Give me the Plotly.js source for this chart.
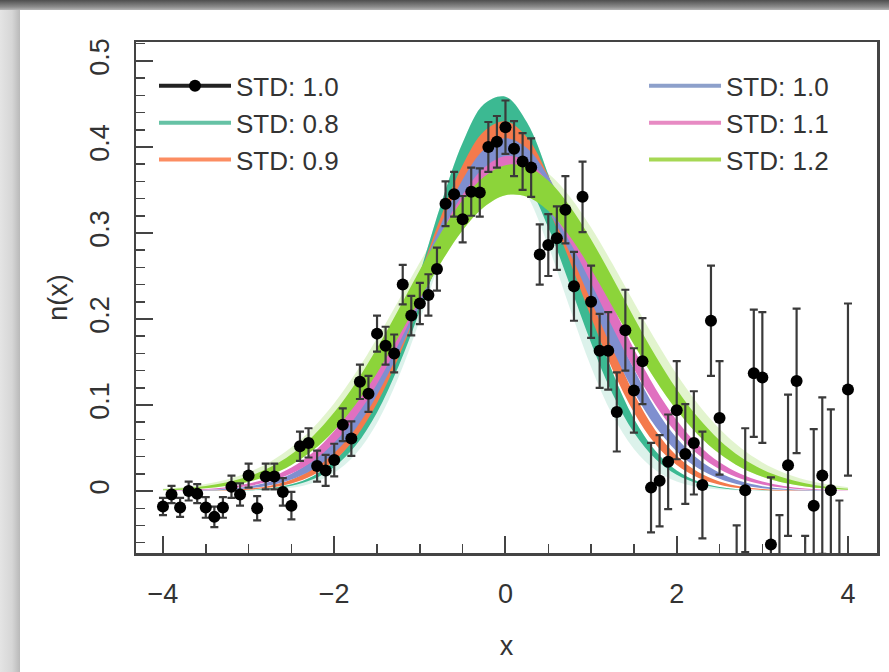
<!DOCTYPE html>
<html>
<head>
<meta charset="utf-8">
<script src="https://cdn.plot.ly/plotly-3.0.1.min.js"></script>
<style>
  html, body { margin:0; padding:0; }
  body { width:889px; height:672px; position:relative; overflow:hidden; background:#d9d9d9; }
  #topstrip { position:absolute; left:0; top:0; width:889px; height:10px; background:linear-gradient(#4e4e4e, #8c8c8c 70%, #b5b5b5); }
  #leftstrip { position:absolute; left:0; top:10px; width:20px; height:662px; background:linear-gradient(to right, #e4e4e4, #d6d6d6 60%, #b9b9b9); }
  #chart { position:absolute; left:20px; top:10px; width:869px; height:662px; background:#fff; }
</style>
</head>
<body>
<div id="topstrip"></div>
<div id="leftstrip"></div>
<div id="chart"></div>
<script>
// ---- observed data (x, n(x), error) ----
const xPts = [-4.0,-3.9,-3.8,-3.7,-3.6,-3.5,-3.4,-3.3,-3.2,-3.1,-3.0,-2.9,-2.8,-2.7,-2.6,-2.5,-2.4,-2.3,-2.2,-2.1,-2.0,-1.9,-1.8,-1.7,-1.6,-1.5,-1.4,-1.3,-1.2,-1.1,-1.0,-0.9,-0.8,-0.7,-0.6,-0.5,-0.4,-0.3,-0.2,-0.1,0.0,0.1,0.2,0.3,0.4,0.5,0.6,0.7,0.8,0.9,1.0,1.1,1.2,1.3,1.4,1.5,1.6,1.7,1.8,1.9,2.0,2.1,2.2,2.3,2.4,2.5,2.6,2.7,2.8,2.9,3.0,3.1,3.2,3.3,3.4,3.5,3.6,3.7,3.8,3.9,4.0];
const yPts = [-0.018,-0.004,-0.019,0.000,-0.003,-0.019,-0.030,-0.019,0.005,-0.004,
  0.018,-0.020,0.017,0.017,-0.001,-0.017,0.052,0.056,0.029,0.024,
  0.036,0.077,0.061,0.127,0.113,0.183,0.169,0.160,0.240,0.204,
  0.218,0.228,0.258,0.334,0.345,0.316,0.348,0.347,0.400,0.406,
  0.423,0.398,0.383,0.376,0.275,0.286,0.294,0.327,0.238,0.342,
  0.220,0.163,0.163,0.092,0.187,0.117,0.151,0.004,0.012,0.034,
  0.094,0.043,0.056,0.007,0.198,0.085,-0.160,-0.110,0.001,0.137,
  0.132,-0.062,-0.108,0.030,0.128,-0.139,-0.017,0.018,0.001,-0.108,
  0.118];
const errPts = [0.010,0.010,0.011,0.011,0.011,0.012,0.012,0.012,0.013,0.013,
  0.014,0.014,0.015,0.015,0.016,0.016,0.017,0.017,0.018,0.018,
  0.019,0.019,0.020,0.020,0.021,0.021,0.022,0.022,0.023,0.023,
  0.024,0.024,0.025,0.026,0.026,0.027,0.028,0.028,0.029,0.030,
  0.031,0.032,0.033,0.034,0.035,0.036,0.037,0.039,0.040,0.041,
  0.042,0.043,0.045,0.046,0.047,0.049,0.050,0.052,0.053,0.055,
  0.057,0.058,0.060,0.062,0.064,0.066,0.068,0.070,0.072,0.074,
  0.076,0.078,0.080,0.082,0.084,0.087,0.089,0.091,0.094,0.097,
  0.100];

// ---- fitted bands (lower / upper envelope of the sampled curves) ----
const xBand = [-4,-3.75,-3.5,-3.25,-3,-2.75,-2.5,-2.25,-2,-1.75,-1.5,-1.25,-1,-0.75,-0.5,-0.25,0,0.25,0.5,0.75,1,1.25,1.5,1.75,2,2.25,2.5,2.75,3,3.25,3.5,3.75,4];
const tealLo = [0,0,0.0001,0.0003,0.0009,0.0025,0.0061,0.0136,0.0281,0.0529,0.0914,0.1447,0.2096,0.2782,0.338,0.3763,0.3837,0.3582,0.3063,0.2400,0.1721,0.1131,0.0680,0.0375,0.0189,0.0088,0.0037,0.0014,0.0005,0.0002,0.0001,0,0];
const tealHi = [0,0,0.0001,0.0004,0.0012,0.0032,0.0078,0.0173,0.0352,0.0656,0.1122,0.1760,0.2532,0.3344,0.4048,0.4498,0.4584,0.4286,0.3676,0.2893,0.2087,0.1383,0.0840,0.0468,0.0239,0.0112,0.0048,0.0019,0.0007,0.0002,0.0001,0,0];
const orangeLo = [0,0.0001,0.0002,0.0006,0.0016,0.0040,0.0089,0.0184,0.0352,0.0623,0.1021,0.1550,0.2176,0.2829,0.3401,0.3785,0.3898,0.3715,0.3276,0.2675,0.2020,0.1413,0.0914,0.0547,0.0303,0.0155,0.0074,0.0032,0.0013,0.0005,0.0002,0,0];
const orangeHi = [0.0001,0.0002,0.0004,0.0012,0.0028,0.0063,0.0133,0.0259,0.0471,0.0796,0.1254,0.1841,0.2515,0.3200,0.3791,0.4183,0.4298,0.4112,0.3664,0.3041,0.2349,0.1690,0.1133,0.0707,0.0411,0.0222,0.0112,0.0053,0.0023,0.0009,0.0004,0.0001,0];
const blueLo = [0.0001,0.0002,0.0006,0.0014,0.0032,0.0067,0.0135,0.0252,0.0442,0.0725,0.1116,0.1605,0.2164,0.2730,0.3227,0.3571,0.3700,0.3590,0.3261,0.2774,0.2210,0.1648,0.1151,0.0753,0.0461,0.0264,0.0142,0.0071,0.0034,0.0015,0.0006,0.0002,0.0001];
const blueHi = [0.0002,0.0005,0.0011,0.0026,0.0054,0.0108,0.0202,0.0357,0.0594,0.0932,0.1378,0.1919,0.2518,0.3110,0.3621,0.3970,0.4100,0.3989,0.3656,0.3155,0.2567,0.1966,0.1419,0.0964,0.0618,0.0372,0.0212,0.0113,0.0057,0.0027,0.0012,0.0005,0.0002];
const pinkLo = [0.0003,0.0006,0.0014,0.0029,0.0059,0.0113,0.0203,0.0347,0.0562,0.0860,0.1245,0.1706,0.2211,0.2713,0.3149,0.3460,0.3596,0.3537,0.3292,0.2899,0.2416,0.1905,0.1421,0.1004,0.0670,0.0424,0.0254,0.0144,0.0077,0.0039,0.0019,0.0008,0.0004];
const pinkHi = [0.0005,0.0011,0.0023,0.0045,0.0087,0.0158,0.0273,0.0448,0.0699,0.1037,0.1460,0.1954,0.2484,0.3002,0.3446,0.3759,0.3896,0.3837,0.3590,0.3192,0.2696,0.2164,0.1651,0.1196,0.0824,0.0539,0.0335,0.0198,0.0111,0.0059,0.0030,0.0014,0.0007];
const greenLo = [0.0008,0.0017,0.0032,0.0061,0.0108,0.0185,0.0303,0.0473,0.0705,0.1006,0.1373,0.1790,0.2232,0.2660,0.3031,0.3301,0.3438,0.3422,0.3257,0.2963,0.2577,0.2143,0.1704,0.1295,0.0941,0.0653,0.0434,0.0275,0.0167,0.0097,0.0054,0.0029,0.0014];
const greenHi = [0.0017,0.0032,0.0058,0.0101,0.0171,0.0276,0.0428,0.0638,0.0915,0.1257,0.1662,0.2109,0.2571,0.3009,0.3383,0.3653,0.3788,0.3773,0.3609,0.3315,0.2925,0.2479,0.2018,0.1577,0.1184,0.0854,0.0591,0.0393,0.0251,0.0154,0.0091,0.0051,0.0028];
// faint outermost sampled curves (haze around the solid bands)
const tealHazeLo = [0,0,0,0.0001,0.0005,0.0014,0.0038,0.0094,0.0212,0.0431,0.0792,0.1319,0.1988,0.2710,0.3344,0.3732,0.3770,0.3445,0.2849,0.2132,0.1443,0.0884,0.0490,0.0246,0.0112,0.0046,0.0017,0.0006,0.0002,0.0001,0,0,0];
const greenHazeHi = [0.0026,0.0046,0.0081,0.0135,0.0218,0.0339,0.0508,0.0734,0.1022,0.1372,0.1775,0.2213,0.2659,0.3080,0.3437,0.3698,0.3834,0.3831,0.3690,0.3425,0.3064,0.2641,0.2195,0.1758,0.1357,0.1010,0.0724,0.0500,0.0333,0.0214,0.0132,0.0079,0.0045];

const bandNames = ['STD: 0.8','STD: 0.9','STD: 1.0','STD: 1.1','STD: 1.2'];
const dataName = 'STD: 1.0';
const xTicks = [-4,-2,0,2,4];
const yTicks = [0,0.1,0.2,0.3,0.4,0.5];

const bandFill = ['#3cb992','#f47a4c','#7f8fcf','#e070c0','#8cd43a'];
const legendCol = ['#66c2a5','#fc8d62','#8da0cb','#e78ac3','#a6d854'];
const bands = [[tealLo,tealHi],[orangeLo,orangeHi],[blueLo,blueHi],[pinkLo,pinkHi],[greenLo,greenHi]];

const traces = [];
function band(lo, hi, col) {
  traces.push({x:xBand, y:lo, mode:'lines', line:{width:0, shape:'spline', color:col}, showlegend:false, hoverinfo:'skip'});
  traces.push({x:xBand, y:hi, mode:'lines', line:{width:0, shape:'spline', color:col}, fill:'tonexty', fillcolor:col, showlegend:false, hoverinfo:'skip'});
}
band(tealHazeLo, tealHi, 'rgba(60,185,146,0.18)');
band(greenLo, greenHazeHi, 'rgba(140,212,58,0.25)');
bands.forEach((b, i) => band(b[0], b[1], bandFill[i]));

traces.push({x:xPts, y:yPts, mode:'markers', type:'scatter', showlegend:false,
  marker:{color:'#000', size:12},
  error_y:{type:'data', array:errPts, visible:true, color:'#3a3a3a', thickness:2.2, width:4}});

// legend entries
traces.push({x:[null], y:[null], name:dataName, mode:'lines+markers', line:{color:'#222', width:4}, marker:{color:'#000', size:12}, legend:'legend'});
[0,1].forEach(i => traces.push({x:[null], y:[null], name:bandNames[i], mode:'lines', line:{color:legendCol[i], width:4}, legend:'legend'}));
[2,3,4].forEach(i => traces.push({x:[null], y:[null], name:bandNames[i], mode:'lines', line:{color:legendCol[i], width:4}, legend:'legend2'}));

const fontFam = '"Liberation Sans", Arial, Helvetica, sans-serif';
const axCol = '#444';
const legFont = {size:26, color:'#333', family:fontFam};
const layout = {
  width:869, height:662,
  margin:{l:116, r:12, t:32, b:119},
  paper_bgcolor:'#fff', plot_bgcolor:'#fff',
  font:{family:fontFam, color:'#333', size:27},
  showlegend:true,
  legend:{x:0.0243, y:0.96, xanchor:'left', yanchor:'top', bgcolor:'rgba(0,0,0,0)', font:legFont, traceorder:'normal', itemwidth:72, tracegroupgap:0},
  legend2:{x:0.6856, y:0.96, xanchor:'left', yanchor:'top', bgcolor:'rgba(0,0,0,0)', font:legFont, traceorder:'normal', itemwidth:72, tracegroupgap:0},
  xaxis:{range:[-4.315,4.339], tickvals:xTicks, ticks:'inside', ticklen:17, tickwidth:2, tickcolor:axCol,
    showline:true, linecolor:axCol, linewidth:2.5, mirror:true, showgrid:false, zeroline:false,
    minor:{dtick:0.5, tick0:0, ticks:'inside', ticklen:9, tickwidth:1.5, tickcolor:axCol, showgrid:false},
    tickfont:{size:27, color:'#333'}, ticklabelstandoff:15,
    title:{text:'x', font:{size:27, color:'#333'}, standoff:28}},
  yaxis:{range:[-0.072,0.522], tickvals:yTicks, ticks:'inside', ticklen:17, tickwidth:2, tickcolor:axCol,
    showline:true, linecolor:axCol, linewidth:2.5, mirror:true, showgrid:false, zeroline:false,
    minor:{dtick:0.02, tick0:0, ticks:'inside', ticklen:9, tickwidth:1.5, tickcolor:axCol, showgrid:false},
    tickangle:-90, tickfont:{size:27, color:'#333'}, ticklabelstandoff:14,
    title:{text:'n(x)', font:{size:27, color:'#333'}, standoff:10}}
};
Plotly.newPlot('chart', traces, layout, {displayModeBar:false, staticPlot:true});
</script>
</body>
</html>
